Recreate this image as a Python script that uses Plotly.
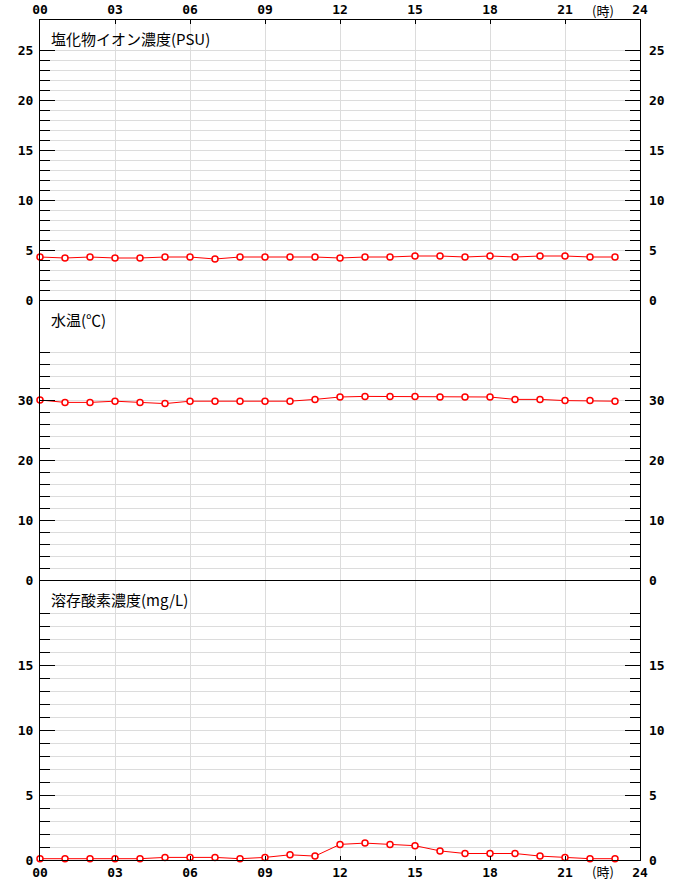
import plotly.graph_objects as go

hours = list(range(24))
salinity = [4.3, 4.2, 4.3, 4.2, 4.2, 4.3, 4.3, 4.1, 4.3, 4.3, 4.3, 4.3,
            4.2, 4.3, 4.3, 4.4, 4.4, 4.3, 4.4, 4.3, 4.4, 4.4, 4.3, 4.3]
temperature = [30.0, 29.6, 29.6, 29.8, 29.6, 29.4, 29.8, 29.8, 29.8, 29.8, 29.8, 30.1,
               30.5, 30.6, 30.6, 30.6, 30.5, 30.5, 30.5, 30.1, 30.1, 29.9, 29.9, 29.8]
oxygen = [0.1, 0.1, 0.1, 0.1, 0.1, 0.2, 0.2, 0.2, 0.1, 0.2, 0.4, 0.3,
          1.2, 1.3, 1.2, 1.1, 0.7, 0.5, 0.5, 0.5, 0.3, 0.2, 0.1, 0.1]

x_tickvals = [0, 3, 6, 9, 12, 15, 18, 21, 24]
x_ticktext = ["00", "03", "06", "09", "12", "15", "18", "21", "24"]
unit_label = "(時)"

panel_titles = ["塩化物イオン濃度(PSU)", "水温(℃)", "溶存酸素濃度(mg/L)"]
panel_major = [[0, 5, 10, 15, 20, 25], [0, 10, 20, 30], [0, 5, 10, 15]]
panel_minor = [[v for v in range(1, 26) if v % 5],
               [v for v in range(2, 39, 2) if v % 10],
               [v for v in range(1, 20) if v % 5]]
series = [salinity, temperature, oxygen]

W, H = 680, 880
ML, MR, MT, MB = 40, 40, 20, 20
plot_h = H - MT - MB
panel_h = plot_h / 3
px_per_unit = [10, 6, 13]
ranges = [[0, panel_h / p] for p in px_per_unit]

GRID = "#dcdcdc"
TICKFONT = dict(family="DejaVu Sans Mono", size=13, color="black", weight="bold")

fig = go.Figure()
yaxis_names = ["y", "y2", "y3"]
xaxis_names = ["x3", "x2", "x"]
for i in range(3):
    fig.add_trace(go.Scatter(
        x=hours, y=series[i], xaxis=xaxis_names[i], yaxis=yaxis_names[i],
        mode="lines+markers",
        line=dict(color="red", width=1),
        marker=dict(symbol="circle", size=6, color="white",
                    line=dict(color="red", width=1.5)),
        cliponaxis=False, showlegend=False, hoverinfo="x+y"))
# carrier traces (transparent) so the right-hand label axes are drawn
for i in range(3):
    fig.add_trace(go.Scatter(
        x=hours, y=series[i], xaxis=xaxis_names[i], yaxis=f"y{i+4}",
        mode="lines", line=dict(width=0, color="rgba(0,0,0,0)"),
        opacity=0, hoverinfo="skip", showlegend=False))

domains = [[2/3, 1], [1/3, 2/3], [0, 1/3]]
layout = dict(
    width=W, height=H,
    margin=dict(l=ML, r=MR, t=MT, b=MB, autoexpand=False),
    paper_bgcolor="white", plot_bgcolor="white",
    showlegend=False,
)

xcommon = dict(range=[0, 24], tickvals=x_tickvals, ticktext=x_ticktext,
               showgrid=True, gridcolor=GRID, gridwidth=1, zeroline=False,
               showline=True, linecolor="black", linewidth=1,
               tickfont=TICKFONT, fixedrange=True, automargin=False)
layout["xaxis"] = dict(xcommon, anchor="y3", ticks="inside", ticklen=4,
                       tickcolor="black", showticklabels=True, mirror=False)
layout["xaxis2"] = dict(xcommon, anchor="y2", matches="x", ticks="",
                        showticklabels=False, mirror=False)
layout["xaxis3"] = dict(xcommon, anchor="y", side="top", matches="x",
                        ticks="inside", ticklen=4, tickcolor="black",
                        showticklabels=True, mirror=True)

for i in range(3):
    key = "yaxis" if i == 0 else f"yaxis{i+1}"
    ycommon = dict(domain=domains[i], range=ranges[i],
                   tickvals=panel_major[i],
                   ticktext=[str(v) for v in panel_major[i]],
                   tickfont=TICKFONT, zeroline=False, fixedrange=True,
                   automargin=False)
    layout[key] = dict(
        ycommon, anchor=xaxis_names[i], side="left",
        ticks="inside", ticklen=15, tickcolor="black", tickwidth=1,
        showgrid=True, gridcolor=GRID,
        showline=True, linecolor="black", mirror="ticks",
        minor=dict(tickmode="array", tickvals=panel_minor[i], ticks="inside",
                   ticklen=10, tickcolor="black", showgrid=True, gridcolor=GRID),
        ticklabelstandoff=3,
    )
    rkey = f"yaxis{i+4}"
    layout[rkey] = dict(
        ycommon, overlaying=yaxis_names[i], side="right", anchor=xaxis_names[i],
        ticks="", showgrid=False, showline=False, ticklabelstandoff=8,
    )

annotations = []
for i in range(3):
    annotations.append(dict(
        text=panel_titles[i], xref="paper", x=0.015, xanchor="left",
        yref=f"{yaxis_names[i]} domain", y=1, yanchor="middle",
        yshift=-18 if i == 0 else -19, showarrow=False,
        font=dict(family="Noto Sans CJK JP", size=15, color="black")))
for yv, ys in ((1, 10), (0, -11)):
    annotations.append(dict(
        text=unit_label, xref="x", x=22.5, xanchor="center",
        yref="paper", y=yv, yanchor="middle", yshift=ys, showarrow=False,
        borderpad=0,
        font=dict(family="Noto Sans CJK JP", size=13, color="black")))
layout["annotations"] = annotations

fig.update_layout(**layout)
fig.write_html("out.html",
               config={"displayModeBar": False},
               post_script="document.body.style.margin='0px';")
